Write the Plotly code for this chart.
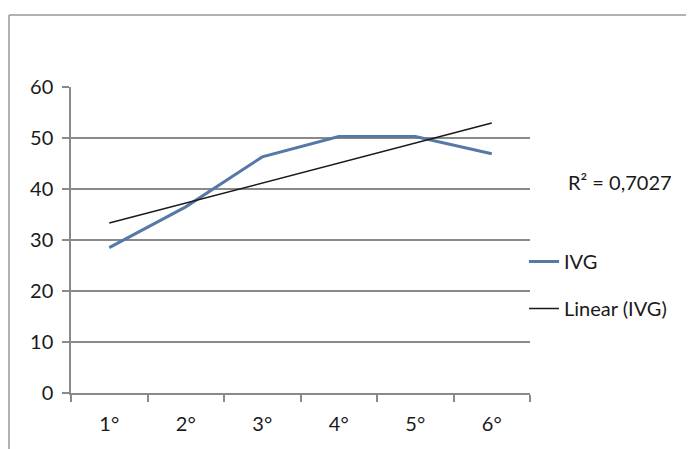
import numpy as np
import plotly.graph_objects as go

categories = ["1°", "2°", "3°", "4°", "5°", "6°"]
ivg = [28.5, 36.5, 46.3, 50.3, 50.3, 46.9]
y_ticks = [0, 10, 20, 30, 40, 50, 60]

xnum = np.arange(1, len(ivg) + 1)
slope, intercept = np.polyfit(xnum, ivg, 1)
trend = list(slope * xnum + intercept)
r2_text = "R² = 0,7027"

font = "Lato, 'Open Sans', sans-serif"
FS = 20

# page offset of the figure (browser body margin)
OFF = 8
PX0, PX1, PY0, PY1 = 71, 530, 87, 393  # plot area in page pixels
PW, PH = PX1 - PX0, PY1 - PY0


def px(x):
    return (x - PX0) / PW


def py(y):
    return (PY1 - y) / PH


fig = go.Figure()
fig.add_trace(go.Scatter(x=categories, y=ivg, mode="lines", name="IVG",
                         line=dict(color="#5579a6", width=3), legendgroup="a"))
fig.add_trace(go.Scatter(x=categories, y=trend, mode="lines", name="Linear (IVG)",
                         line=dict(color="#1a1a1a", width=1.5), legendgroup="b"))

fig.update_layout(
    width=694 - OFF, height=449 - OFF,
    margin=dict(l=PX0 - OFF, r=694 - PX1, t=PY0 - OFF, b=449 - PY1),
    paper_bgcolor="white", plot_bgcolor="white",
    font=dict(family=font, size=FS, color="#1a1a1a"),
    showlegend=True,
    legend=dict(x=px(524), xanchor="left", y=py(242), yanchor="top",
                traceorder="grouped", tracegroupgap=18,
                font=dict(size=FS, color="#1a1a1a"), bgcolor="rgba(0,0,0,0)"),
    xaxis=dict(type="category", range=[-0.5, 5.5], showgrid=False,
               showline=True, linecolor="#8a8a8a", linewidth=1.5,
               ticks="outside", tickson="boundaries", ticklen=7,
               tickcolor="#8a8a8a", tickwidth=1.5, ticklabelstandoff=12),
    yaxis=dict(range=[0, 60], tickvals=y_ticks, showgrid=True,
               gridcolor="#8a8a8a", gridwidth=1.5, zeroline=False,
               showline=True, linecolor="#8a8a8a", linewidth=1.5,
               ticks="outside", ticklen=7, tickcolor="#8a8a8a", tickwidth=1.5,
               ticklabelstandoff=5),
    annotations=[dict(text=r2_text, xref="paper", yref="paper",
                      x=px(566), y=py(182),
                      xanchor="left", yanchor="middle", showarrow=False,
                      font=dict(size=FS, color="#1a1a1a"))],
    shapes=[
        dict(type="line", xref="paper", yref="paper",
             x0=px(9), x1=px(694), y0=py(15), y1=py(15),
             line=dict(color="#999", width=1.5)),
        dict(type="line", xref="paper", yref="paper",
             x0=px(9), x1=px(9), y0=py(15), y1=py(449),
             line=dict(color="#999", width=1.5)),
    ],
)

fig.write_html("out.html")
